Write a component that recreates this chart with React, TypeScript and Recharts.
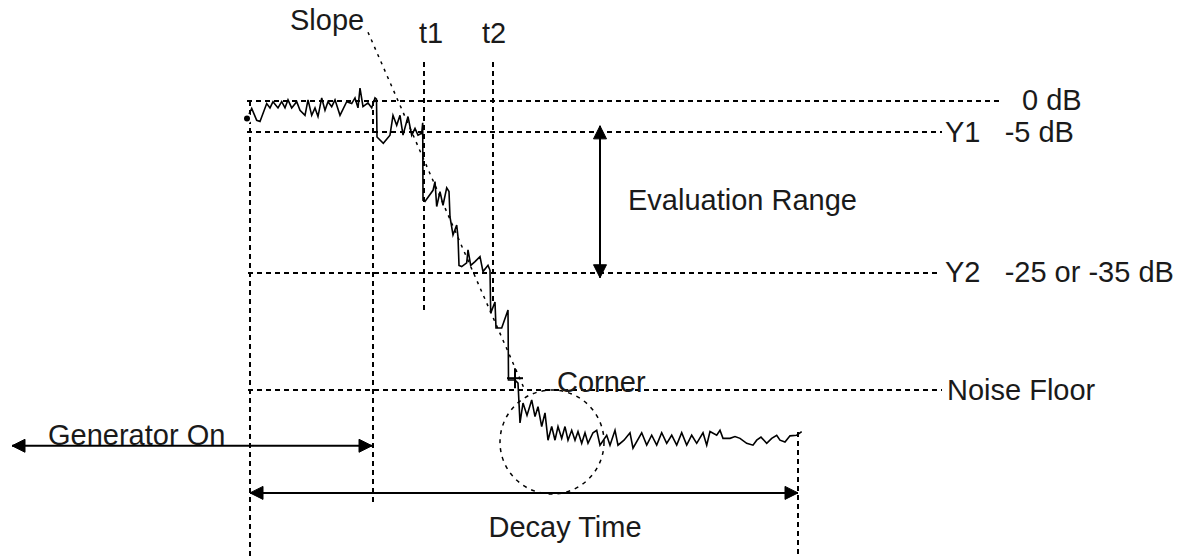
import React from 'react';
import { LineChart, Line, XAxis, YAxis, ReferenceLine, ReferenceDot } from 'recharts';

// Decay curve: time (ms from start of record) and level (dB re steady state)
const curveTime = [
  -3, 1.7, 6.7, 10, 16.7, 20, 23, 28, 31.7, 35, 38, 41.7, 46.7, 50, 55, 58, 61.7, 65, 68, 71.7,
  75, 78, 81.7, 85, 90, 96.7, 101.7, 105, 108, 110, 113, 118, 121.7, 125, 126.5, 127,
  133.3, 140, 143, 146.7, 150, 153, 158, 161.7, 165, 168, 171.7, 172.7, 173,
  175, 183, 185, 186.7, 190, 193, 196.7, 199, 200, 203, 206.7, 208, 209, 211.7, 216.7, 218,
  220.7, 225, 230, 233, 238, 240, 240.7, 245, 246, 251.7, 258, 258.5, 265, 268,
  270, 273, 277, 281.7, 285, 288, 291.7, 295, 298, 301.7, 305, 308, 311.7, 315, 318, 321.7,
  325, 328, 331.7, 335, 338, 343, 346.7, 350, 356.7, 360, 365, 368, 374, 380, 383, 391.7,
  396.7, 401.7, 406.7, 411.7, 416.7, 421.7, 426.7, 431.7, 436.7, 441.7, 446.7, 453, 456.7,
  460, 466.7, 470, 473, 480, 485, 490, 496.7, 503, 506.7, 511, 516.7, 521.7, 526.7, 530,
  535, 540, 546.7, 551.7,
];
const curveLevel = [
  -2.8, -1.2, -3.1, -3.3, -0.4, -1.1, -0.1, -1.1, -0.1, -1.1, 0.2, -1.1, -0.1, -1.5, -2.3, 0.2, -2.3, -1.1, -2.5, 0.5,
  -1.5, -0.1, -0.9, 0.2, -2.3, -0.1, -0.4, 0.5, -1.1, 2.1, -0.9, -0.3, -1.1, 0.5, 0.3, -5.8,
  -6.8, -5.5, -2.3, -3.9, -2.3, -5.5, -2.5, -5.5, -4.4, -5.5, -5.2, -3.5, -16.0,
  -16.2, -14.4, -13.0, -17.0, -14.6, -16.8, -14.0, -14.6, -18.7, -21.6, -20.0, -21.9, -26.5, -26.7, -26.1, -24.0,
  -26.5, -25.9, -25.1, -27.5, -26.5, -27.3, -34.2, -32.4, -36.6, -36.6, -33.7, -45.0, -45.0, -45.5,
  -51.9, -48.7, -50.7, -48.2, -50.9, -49.3, -52.5, -50.3, -54.7, -52.5, -54.7, -52.5, -54.4, -52.5, -54.7, -53.1,
  -54.7, -53.3, -55.2, -53.5, -55.2, -53.5, -53.1, -55.5, -53.9, -55.5, -53.1, -55.5, -54.7, -53.5, -56.0, -53.5,
  -55.5, -53.9, -55.5, -53.5, -55.2, -53.9, -55.5, -53.5, -55.5, -53.9, -55.2, -53.5, -55.5,
  -53.3, -53.9, -53.1, -54.4, -54.4, -54.1, -54.4, -55.2, -55.5, -54.7, -54.2, -55.2, -54.4, -53.9, -54.7,
  -55.0, -54.0, -53.9, -53.3,
];

// Horizontal level guides (dB) with their time extents
const levelGuideDb = [0, -5, -27.7, -46.6];
const levelGuideFrom = [-3, -3, -2, -2];
const levelGuideTo = [753, 692, 690, 692];

// Vertical time guides (ms) with their level extents
const timeGuideT = [0, 123, 548, 174, 243];
const timeGuideTop = [0, 0, -53.4, 6.3, 6.3];
const timeGuideBottom = [-73.7, -64.8, -73.7, -33.7, -32.9];

// Labels: text, anchor time, anchor level
const labelText = ['Slope', 't1', 't2', '0 dB', 'Y1   -5 dB', 'Evaluation Range', 'Y2   -25 or -35 dB', 'Corner', 'Noise Floor', 'Generator On', 'Decay Time'];
const labelT = [40, 169, 232, 772, 695, 378, 695, 307, 697, -202, 315];
const labelDb = [11.45, 9.4, 9.4, -1.45, -6.6, -17.6, -29.2, -46.9, -48.2, -55.4, -70.3];
const labelAnchor = ['start', 'start', 'start', 'start', 'start', 'start', 'start', 'start', 'start', 'start', 'middle'];

// Double arrows
const generatorOn = { y: -55.6, from: -238, to: 122 };
const decayTime = { y: -63.2, from: 0, to: 548 };
const evalRange = { t: 350, top: -4.0, bottom: -28.5 };

// Slope line, corner point, corner circle
const slope = [{ x: 118, y: 11.1 }, { x: 274, y: -46.3 }];
const corner = { t: 265, db: -44.7 };
const cornerCircle = { t: 302, db: -55.0 };

const data = curveTime.map((t, i) => ({ t, db: curveLevel[i] }));

const FONT = '"Liberation Sans", Arial, sans-serif';

const head = (dir: string) => (props: any) => {
  const { cx, cy } = props;
  const L = 13;
  const W = 6.5;
  let pts = '';
  if (dir === 'left') pts = `${cx},${cy} ${cx + L},${cy - W} ${cx + L},${cy + W}`;
  if (dir === 'right') pts = `${cx},${cy} ${cx - L},${cy - W} ${cx - L},${cy + W}`;
  if (dir === 'up') pts = `${cx},${cy} ${cx - W},${cy + L} ${cx + W},${cy + L}`;
  if (dir === 'down') pts = `${cx},${cy} ${cx - W},${cy - L} ${cx + W},${cy - L}`;
  return <polygon points={pts} fill="#000" stroke="#000" strokeWidth={1} />;
};

const textShape = (text: string, anchor: string) => (props: any) => (
  <text
    x={props.cx}
    y={props.cy}
    textAnchor={anchor as any}
    fontFamily={FONT}
    fontSize={29}
    fill="#1a1a1a"
    style={{ whiteSpace: 'pre' }}
  >
    {text}
  </text>
);

const plusShape = (props: any) => {
  const { cx, cy } = props;
  return (
    <g stroke="#000" strokeWidth={2}>
      <line x1={cx - 8} y1={cy} x2={cx + 8} y2={cy} />
      <line x1={cx} y1={cy - 10} x2={cx} y2={cy + 10} />
    </g>
  );
};

const circleShape = (props: any) => (
  <circle cx={props.cx} cy={props.cy} r={52} fill="none" stroke="#000" strokeWidth={1.5} strokeDasharray="4 5" />
);

export default function App() {
  const dash = '5 4';
  return (
    <div style={{ position: 'absolute', left: 0, top: 0, background: '#fff' }}>
      <LineChart width={1190} height={558} data={data} margin={{ top: 0, right: 0, bottom: 0, left: 0 }}>
        <XAxis type="number" dataKey="t" domain={[-250, 940]} hide allowDataOverflow />
        <YAxis type="number" domain={[-73.7, 16.3]} hide allowDataOverflow />

        {levelGuideDb.map((db, i) => (
          <ReferenceLine
            key={`h${i}`}
            segment={[{ x: levelGuideFrom[i], y: db }, { x: levelGuideTo[i], y: db }]}
            stroke="#000"
            strokeWidth={1.5}
            strokeDasharray={dash}
            shapeRendering="crispEdges"
          />
        ))}
        {timeGuideT.map((t, i) => (
          <ReferenceLine
            key={`v${i}`}
            segment={[{ x: t, y: timeGuideTop[i] }, { x: t, y: timeGuideBottom[i] }]}
            stroke="#000"
            strokeWidth={1.5}
            strokeDasharray={dash}
            shapeRendering="crispEdges"
          />
        ))}
        <ReferenceLine segment={slope} stroke="#000" strokeWidth={1.5} strokeDasharray="3 5" />

        <ReferenceLine segment={[{ x: generatorOn.from, y: generatorOn.y }, { x: generatorOn.to, y: generatorOn.y }]} stroke="#000" strokeWidth={2} />
        <ReferenceDot x={generatorOn.from} y={generatorOn.y} shape={head('left')} />
        <ReferenceDot x={generatorOn.to} y={generatorOn.y} shape={head('right')} />

        <ReferenceLine segment={[{ x: decayTime.from, y: decayTime.y }, { x: decayTime.to, y: decayTime.y }]} stroke="#000" strokeWidth={2} />
        <ReferenceDot x={decayTime.from} y={decayTime.y} shape={head('left')} />
        <ReferenceDot x={decayTime.to} y={decayTime.y} shape={head('right')} />

        <ReferenceLine segment={[{ x: evalRange.t, y: evalRange.top }, { x: evalRange.t, y: evalRange.bottom }]} stroke="#000" strokeWidth={2} />
        <ReferenceDot x={evalRange.t} y={evalRange.top} shape={head('up')} />
        <ReferenceDot x={evalRange.t} y={evalRange.bottom} shape={head('down')} />

        <ReferenceDot x={cornerCircle.t} y={cornerCircle.db} shape={circleShape} />

        <Line type="linear" dataKey="db" stroke="#000" strokeWidth={1.6} dot={false} isAnimationActive={false} />

        <ReferenceDot x={corner.t} y={corner.db} shape={plusShape} />

        {labelText.map((txt, i) => (
          <ReferenceDot key={`l${i}`} x={labelT[i]} y={labelDb[i]} shape={textShape(txt, labelAnchor[i])} />
        ))}
      </LineChart>
    </div>
  );
}
